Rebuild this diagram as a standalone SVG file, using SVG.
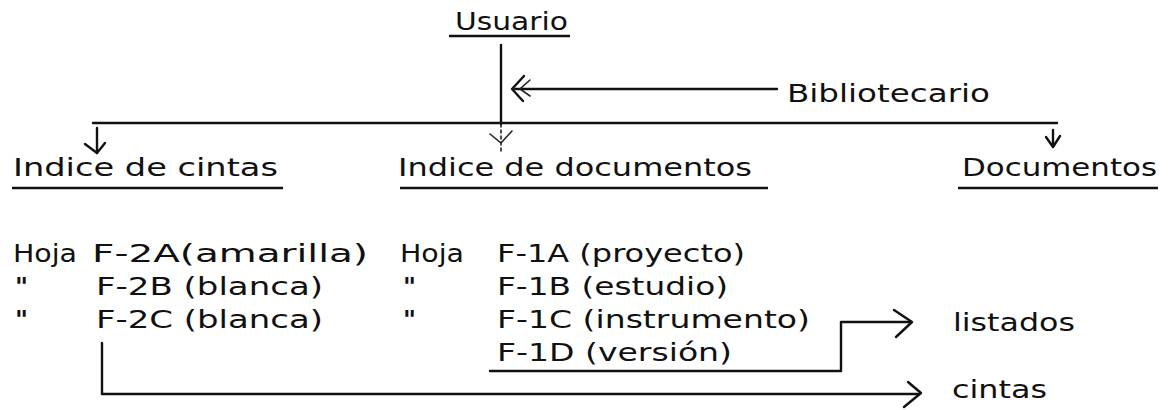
<svg xmlns="http://www.w3.org/2000/svg" width="1171" height="410" viewBox="0 0 1171 410">
<style>
.t{font-family:"DejaVu Sans","Liberation Sans",sans-serif;font-size:25px;fill:#111}
.d{font-weight:bold}
.ln{stroke:#111;stroke-width:2.4;fill:none;stroke-linecap:round;stroke-linejoin:round}
.ul{stroke:#111;stroke-width:2.6;fill:none}
.fn{stroke:#222;stroke-width:1.6;fill:none;stroke-linecap:round}
</style>
<rect width="1171" height="410" fill="#fff"/>
<g id="usuario">
<text class="t" x="455" y="30" textLength="113" lengthAdjust="spacingAndGlyphs">Usuario</text>
<line class="ul" x1="449" y1="36" x2="570" y2="36"/>
</g>
<g id="bibliotecario">
<text class="t" x="787" y="102" textLength="203" lengthAdjust="spacingAndGlyphs">Bibliotecario</text>
</g>
<g id="indice-cintas">
<text class="t" x="13" y="176" textLength="265" lengthAdjust="spacingAndGlyphs">Indice de cintas</text>
<line class="ul" x1="12" y1="188" x2="283" y2="188"/>
</g>
<g id="indice-documentos">
<text class="t" x="398" y="176" textLength="354" lengthAdjust="spacingAndGlyphs">Indice de documentos</text>
<line class="ul" x1="400" y1="188" x2="768" y2="188"/>
</g>
<g id="documentos">
<text class="t" x="962" y="176" textLength="195" lengthAdjust="spacingAndGlyphs">Documentos</text>
<line class="ul" x1="958" y1="188" x2="1158" y2="188"/>
</g>
<g id="hojas-cintas">
<text class="t" x="13" y="262" textLength="64" lengthAdjust="spacingAndGlyphs">Hoja</text>
<text class="t" x="92" y="262" textLength="276" lengthAdjust="spacingAndGlyphs">F-2A(amarilla)</text>
<text class="t d" x="15" y="295">"</text>
<text class="t" x="96" y="295" textLength="227" lengthAdjust="spacingAndGlyphs">F-2B (blanca)</text>
<text class="t d" x="15" y="328">"</text>
<text class="t" x="96" y="328" textLength="227" lengthAdjust="spacingAndGlyphs">F-2C (blanca)</text>
</g>
<g id="hojas-documentos">
<text class="t" x="400" y="262" textLength="64" lengthAdjust="spacingAndGlyphs">Hoja</text>
<text class="t" x="497" y="262" textLength="248" lengthAdjust="spacingAndGlyphs">F-1A (proyecto)</text>
<text class="t d" x="403" y="295">"</text>
<text class="t" x="497" y="295" textLength="231" lengthAdjust="spacingAndGlyphs">F-1B (estudio)</text>
<text class="t d" x="403" y="328">"</text>
<text class="t" x="497" y="328" textLength="313" lengthAdjust="spacingAndGlyphs">F-1C (instrumento)</text>
<text class="t" x="497" y="361" textLength="235" lengthAdjust="spacingAndGlyphs">F-1D (versión)</text>
</g>
<g id="listados">
<text class="t" x="953" y="331" textLength="122" lengthAdjust="spacingAndGlyphs">listados</text>
</g>
<g id="cintas">
<text class="t" x="952" y="398" textLength="95" lengthAdjust="spacingAndGlyphs">cintas</text>
</g>
<g id="connectors">
<line class="ln" x1="501" y1="45" x2="501" y2="124"/>
<line class="fn" x1="501" y1="124" x2="501" y2="152" stroke-dasharray="3 3"/>
<polyline class="fn" points="490,134 501,143 512,131"/>
<line class="ln" x1="515" y1="89" x2="777" y2="89"/>
<polyline class="ln" points="524,76 512,89 523,101"/>
<polyline class="fn" points="530,80 520,89 530,96"/>
<line class="ln" x1="93" y1="123" x2="1057" y2="123"/>
<line class="ln" x1="97" y1="128" x2="97" y2="153"/>
<polyline class="ln" points="85,144 97,153 105,143"/>
<line class="ln" x1="1053" y1="130" x2="1053" y2="146"/>
<polyline class="ln" points="1046,137 1053,147 1060,136"/>
<polyline class="ln" points="490,371 841,371 841,322 910,322"/>
<polyline class="ln" points="894,310 912,322 896,337"/>
<polyline class="ln" points="102,343 102,394 918,394"/>
<polyline class="ln" points="908,382 921,393 904,407"/>
</g>
</svg>
